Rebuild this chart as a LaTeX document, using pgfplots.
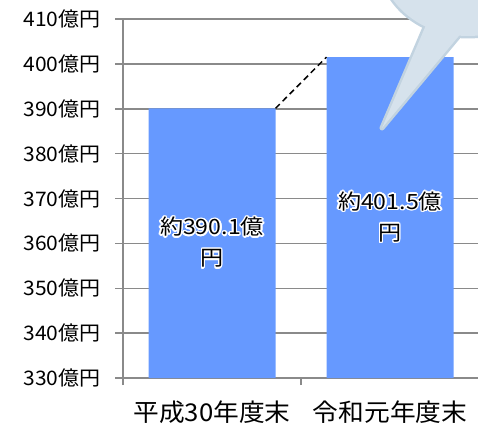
\documentclass[border=0pt]{standalone}
\usepackage{pgfplots}
\pgfplotsset{compat=1.18}
\usepackage{fontspec}
\usepackage{contour}
\setmainfont{Noto Sans CJK JP}
\newfontfamily\jpw{Noto Sans CJK JP}[FakeStretch=1.05]
\newfontfamily\jpl{Noto Sans CJK JP}[FakeStretch=1.1]
\definecolor{barblue}{HTML}{6699FF}
\definecolor{gridgray}{HTML}{8A8A8A}
\definecolor{bubblefill}{HTML}{D6E2EC}
\definecolor{bubbleborder}{HTML}{C2D3E0}
\contourlength{1.4pt}
\begin{document}
\begin{tikzpicture}
\begin{axis}[
  at={(123pt,45pt)}, anchor=south west,
  scale only axis, width=356pt, height=359pt,
  xmin=-0.5, xmax=1.5, ymin=330, ymax=410,
  axis lines=left,
  axis line style={-, draw=gridgray, line width=1.5pt},
  ytick={330,340,...,410},
  yticklabels={330億円,340億円,350億円,360億円,370億円,380億円,390億円,400億円,410億円},
  yticklabel style={font=\jpw\fontsize{20}{20}\selectfont, text=black, xshift=-11pt},
  ymajorgrids,
  grid style={draw=gridgray, line width=1.5pt},
  xtick={0,1},
  xticklabels={平成30年度末,令和元年度末},
  xticklabel style={font=\jpw\fontsize{24.5}{24.5}\selectfont, text=black, yshift=-11pt},
  minor xtick={-0.5,0.5,1.5},
  tick align=outside,
  major tick length=8pt,
  minor tick length=7pt,
  tick style={draw=gridgray, line width=1.5pt},
  major x tick style={draw=none},
  clip=false,
]
\addplot[ybar, fill=barblue, draw=none, bar width=127pt] coordinates {(0,390.1) (1,401.5)};
\addplot[black, dash pattern=on 6pt off 4pt, line width=1.5pt] coordinates {(0.357,390.1) (0.643,401.5)};
\node[align=center, font=\jpl\fontsize{21}{31}\selectfont] at (axis cs:0,360.05) {\contour{white}{約390.1億}\\\contour{white}{円}};
\node[align=center, font=\jpl\fontsize{21}{31}\selectfont] at (axis cs:1,365.75) {\contour{white}{約401.5億}\\\contour{white}{円}};
\end{axis}
\begin{scope}[x=1pt,y=1pt]
\clip (0,0) rectangle (478,423);
\draw[bubbleborder, line width=5pt, line join=round] (468,463) ellipse (88 and 76);
\draw[bubbleborder, line width=5pt, line join=round] (382,295) -- (432,412) -- (468,398) -- cycle;
\fill[bubblefill] (468,463) ellipse (88 and 76);
\fill[bubblefill] (382,295) -- (432,412) -- (468,398) -- cycle;
\end{scope}
\pgfresetboundingbox
\path[use as bounding box] (0pt,0pt) rectangle (478pt,423pt);
\end{tikzpicture}
\end{document}
